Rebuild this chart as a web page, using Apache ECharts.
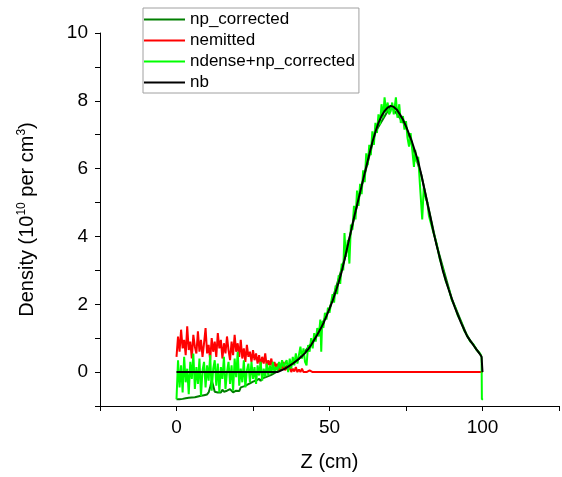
<!DOCTYPE html>
<html>
<head>
<meta charset="utf-8">
<script src="https://cdn.jsdelivr.net/npm/echarts@6/dist/echarts.min.js"></script>
<style>
html,body{margin:0;padding:0;background:#fff;}
#chart{width:562px;height:477px;}
</style>
</head>
<body>
<div id="chart"></div>
<script>
// ---- data ----
const seriesNames = ['np_corrected', 'nemitted', 'ndense+np_corrected', 'nb'];
const xTickLabels = [0, 50, 100];
const yTickLabels = [0, 2, 4, 6, 8, 10];

// nb (smooth profile)
const nbZ = [0, 33, 35, 36, 37, 38, 39, 40, 41, 42, 43, 44, 45, 46, 47, 48, 49, 50, 51, 52, 53, 54, 55, 56, 57, 58, 59, 60,
  61, 62, 63, 64, 65, 66, 67, 68, 69, 70, 71, 72, 73, 74, 75, 76, 77, 78, 79, 80, 81, 82, 83, 84, 85, 86, 87, 88, 89, 90,
  91, 92, 93, 94, 95, 96, 97, 98, 99, 99.7, 100];
const nbV = [0, 0, 0.08, 0.13, 0.19, 0.25, 0.32, 0.39, 0.47, 0.56, 0.67, 0.8, 0.95, 1.1, 1.26, 1.44, 1.65, 1.87, 2.1, 2.37, 2.65, 2.97, 3.35, 3.75, 4.15, 4.55, 4.93, 5.3,
  5.68, 6.05, 6.42, 6.78, 7.08, 7.35, 7.55, 7.7, 7.8, 7.85, 7.82, 7.74, 7.6, 7.45, 7.25, 7.02, 6.78, 6.5, 6.2, 5.82, 5.4, 4.97, 4.55, 4.12, 3.75, 3.38, 3.0, 2.7, 2.42, 2.15,
  1.9, 1.67, 1.45, 1.25, 1.06, 0.92, 0.8, 0.67, 0.55, 0.45, 0];

// nemitted: sampled every 0.5 cm from z = 0, then flat zero
const nemStart = 0, nemStep = 0.5;
const nemV = [0.45, 1.05, 0.6, 1.25, 0.7, 0.95, 0.5, 1.35, 0.65, 0.9, 0.4, 1.1, 0.75, 0.55, 1.2, 0.6, 0.95, 0.45, 0.85, 1.3,
  0.55, 0.8, 0.35, 1.0, 0.6, 0.9, 0.45, 1.15, 0.7, 0.95, 0.4, 0.85, 0.55, 1.05, 0.65, 0.35, 0.9, 0.5, 1.1, 0.6,
  0.85, 0.45, 0.95, 0.4, 0.7, 0.3, 0.8, 0.45, 0.6, 0.3, 0.65, 0.35, 0.55, 0.25, 0.5, 0.2, 0.45, 0.25, 0.55, 0.15,
  0.35, 0.2, 0.4, 0.1, 0.3, 0.15, 0.25, 0.05, 0.2, 0.1, 0.3, 0.05, 0.15, 0.05, 0.2, 0.0, 0.1, 0.02, 0.15, 0.0,
  0.08, 0.0, 0.1, 0.0, 0.03, 0.0, 0.0, 0.05, 0.0, 0.0, 0.0];
const nemTailZ = [100];
const nemTailV = [0];

// ndense+np_corrected: low part sampled every 0.5 cm from z = 0
const ndStart = 0, ndStep = 0.5;
const ndLowV = [-0.8, 0.35, -0.45, 0.2, -0.6, 0.45, -0.3, 0.1, -0.65, 0.3, -0.2, 0.55, -0.5, 0.15, -0.35, 0.4, -0.7, 0.05, 0.3, -0.45,
  0.2, -0.25, 0.5, -0.55, 0.1, 0.35, -0.4, 0.25, -0.6, 0.15, -0.2, 0.45, -0.5, 0.0, 0.3, -0.35, 0.2, -0.55, 0.4, -0.15,
  0.6, -0.4, 0.1, -0.3, 0.35, -0.45, 0.05, 0.25, -0.3, 0.3, -0.2, 0.15, -0.35, 0.2, -0.1, 0.3, -0.25, 0.1, -0.15, 0.25,
  -0.1, 0.2, -0.05, 0.3, 0.0, 0.15, 0.05, 0.3, 0.1, 0.35, 0.15];
const ndHighZ = [36, 36.5, 37, 37.5, 38, 38.5, 39, 39.5, 40, 40.5, 41, 41.5, 42, 42.5, 43, 43.5, 44, 44.5, 45, 45.5, 46, 46.5, 47, 47.3, 47.6,
  48, 48.5, 49, 49.5, 50, 51, 51.5, 52, 52.5, 53, 53.5, 54, 54.5, 54.9, 55.3, 56, 56.5, 57, 57.5, 58, 58.5, 59, 59.5, 60, 60.5,
  61, 61.5, 62, 62.5, 63, 63.5, 64, 64.5, 65, 65.5, 66, 66.5, 67, 67.5, 68, 68.5, 69, 69.5, 70, 70.5, 71, 71.7, 72.2, 72.8, 73.3,
  74, 74.5, 75, 75.5, 76, 76.5, 77, 77.6, 78, 78.5, 79, 79.5, 80.3, 80.8, 81.5, 82, 82.5, 83, 84, 85, 86, 87, 88, 89, 90,
  91, 92, 93, 94, 95, 96, 97, 98, 99, 99.5, 99.7, 99.8, 100.2];
const ndHighV = [0.35, 0.0, 0.4, 0.1, 0.45, 0.2, 0.55, 0.25, 0.5, 0.75, 0.4, 0.7, 0.3, 0.2, 0.8, 0.6, 1.0, 0.7, 1.15, 0.9, 1.3, 1.05, 1.55, 0.6, 1.5,
  1.3, 1.75, 1.55, 1.9, 1.75, 2.3, 2.05, 2.55, 2.3, 2.85, 2.6, 3.2, 3.0, 4.1, 3.4, 3.9, 3.2, 4.35, 4.2, 4.9, 4.5, 5.35, 4.9, 5.55, 5.25,
  5.95, 5.6, 6.45, 6.1, 6.7, 6.4, 7.1, 6.7, 7.35, 7.05, 7.6, 7.3, 7.9, 7.5, 8.1, 7.65, 7.95, 7.6, 7.7, 7.95, 7.6, 8.1, 7.5, 7.9, 7.35,
  7.55, 7.15, 7.4, 6.9, 6.65, 7.05, 6.6, 6.05, 6.55, 6.2, 6.35, 5.6, 4.5, 5.45, 5.1, 5.0, 4.6, 4.6, 4.1, 3.8, 3.35, 3.05, 2.68, 2.45, 2.12,
  1.93, 1.65, 1.48, 1.23, 1.08, 0.9, 0.82, 0.66, 0.57, 0.5, 0.42, -0.8, -0.8];

// np_corrected: sampled every 0.5 cm from z = 0 up to 36, then hidden under the profile
const npStart = 0, npStep = 0.5;
const npLowV = [-0.8, -0.79, -0.8, -0.78, -0.79, -0.78, -0.77, -0.78, -0.76, -0.77, -0.75, -0.76, -0.74, -0.75, -0.72, -0.73, -0.7, -0.72, -0.68, -0.7,
  -0.66, -0.6, -0.45, -0.25, -0.4, -0.58, -0.62, -0.6, -0.55, -0.6, -0.52, -0.58, -0.62, -0.55, -0.6, -0.5, -0.55, -0.6, -0.62, -0.55,
  -0.52, -0.56, -0.45, -0.5, -0.42, -0.47, -0.38, -0.42, -0.33, -0.38, -0.28, -0.32, -0.25, -0.3, -0.2, -0.26, -0.18, -0.22, -0.15, -0.2,
  -0.12, -0.16, -0.08, -0.12, -0.03, -0.07, 0.02, -0.02, 0.08, 0.04, 0.12, 0.1, 0.18];
const npHighZ = [37, 40, 45, 50, 55, 60, 65, 70, 75, 80, 85, 90, 95, 99];
const npHighV = [0.2, 0.39, 0.95, 1.87, 3.35, 5.3, 7.08, 7.85, 7.25, 5.82, 3.75, 2.15, 1.06, 0.55];

// ---- build series data ----
function grid(start, step, vals) { return vals.map((v, i) => [start + i * step, v]); }
function pairs(zs, vs) { return zs.map((z, i) => [z, vs[i]]); }

const npData = grid(npStart, npStep, npLowV).concat(pairs(npHighZ, npHighV));
const nemData = grid(nemStart, nemStep, nemV).concat(pairs(nemTailZ, nemTailV));
const ndData = grid(ndStart, ndStep, ndLowV).concat(pairs(ndHighZ, ndHighV));
const nbData = pairs(nbZ, nbV);

const FONT = 'Liberation Sans, Arial, sans-serif';
const chart = echarts.init(document.getElementById('chart'), null, { renderer: 'canvas' });

function lineSeries(name, data, color, z) {
  return {
    name, type: 'line', data, showSymbol: false, symbol: 'none', smooth: false,
    lineStyle: { color, width: 2 }, itemStyle: { color }, z, animation: false
  };
}

chart.setOption({
  animation: false,
  backgroundColor: '#fff',
  grid: { left: 100, right: 3, top: 33, bottom: 70, containLabel: false },
  legend: {
    orient: 'vertical', left: 143, top: 8,
    data: seriesNames.map(n => ({ name: n, icon: 'rect' })),
    itemWidth: 41, itemHeight: 2, itemGap: 4,
    padding: [3, 4, 2, 1],
    borderColor: '#a0a0a0', borderWidth: 1,
    textStyle: { fontFamily: FONT, fontSize: 17, color: '#000' },
    selectedMode: false
  },
  xAxis: {
    type: 'value', min: -25, max: 125, interval: 25,
    name: 'Z (cm)', nameLocation: 'middle', nameGap: 46,
    nameTextStyle: { fontFamily: FONT, fontSize: 20, color: '#000' },
    axisLine: { show: true, onZero: false, lineStyle: { color: '#000', width: 1 } },
    axisTick: { show: true, inside: false, length: 5, lineStyle: { color: '#000' } },
    axisLabel: {
      fontFamily: FONT, fontSize: 19, color: '#000', margin: 12,
      formatter: v => xTickLabels.indexOf(v) >= 0 ? String(v) : ''
    },
    splitLine: { show: false }
  },
  yAxis: {
    type: 'value', min: -1, max: 10, interval: 1,
    name: 'Density (10{sup|10} per cm{sup|3})', nameLocation: 'middle', nameGap: 62,
    nameTextStyle: {
      fontFamily: FONT, fontSize: 20, color: '#000',
      rich: { sup: { fontFamily: FONT, fontSize: 12, color: '#000', verticalAlign: 'bottom', padding: [0, 0, 10, 0] } }
    },
    axisLine: { show: true, onZero: false, lineStyle: { color: '#000', width: 1 } },
    axisTick: { show: true, inside: false, length: 5, lineStyle: { color: '#000' } },
    axisLabel: {
      fontFamily: FONT, fontSize: 19, color: '#000', margin: 12,
      formatter: v => yTickLabels.indexOf(v) >= 0 ? String(v) : ''
    },
    splitLine: { show: false }
  },
  series: [
    lineSeries('np_corrected', npData, '#007f00', 2),
    lineSeries('nemitted', nemData, '#ff0000', 3),
    lineSeries('ndense+np_corrected', ndData, '#00ff00', 4),
    lineSeries('nb', nbData, '#000000', 5)
  ]
});
</script>
</body>
</html>
